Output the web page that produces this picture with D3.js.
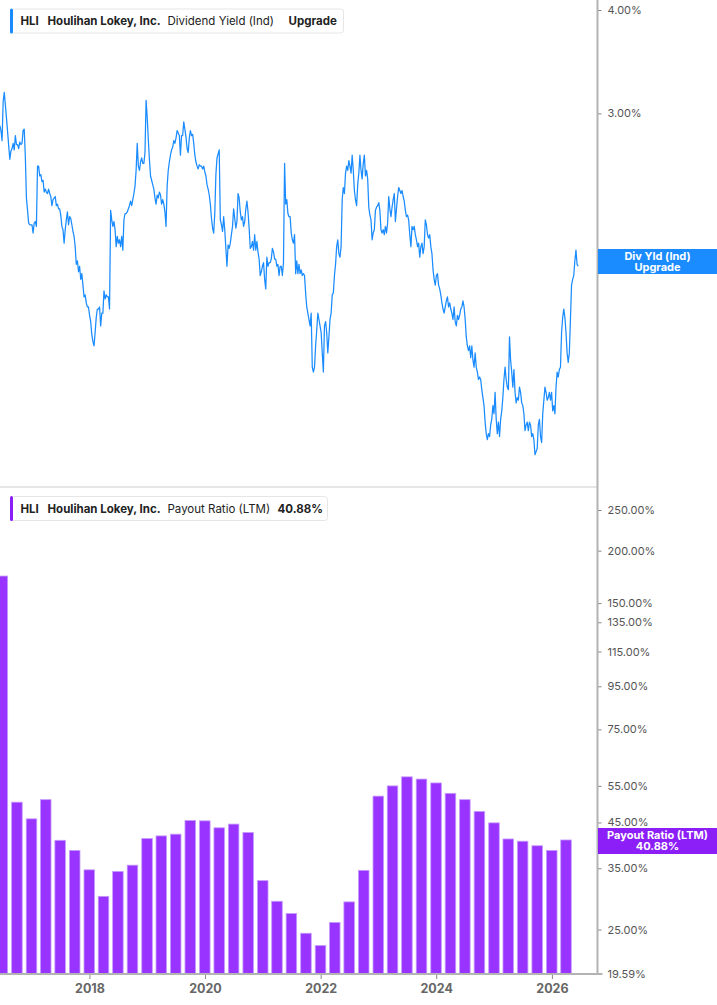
<!DOCTYPE html>
<html>
<head>
<meta charset="utf-8">
<script src="https://cdn.jsdelivr.net/npm/d3@7"></script>
<style>
  html, body { margin: 0; padding: 0; background: #fff; }
  svg { display: block; font-family: Inter, "Noto Sans", sans-serif; }
</style>
</head>
<body>
<div id="chart"></div>
<script>
"use strict";

// Dividend yield (Ind), weekly closes in %, first week starting 2016-06-14
const yieldStart = '2016-06-14';
const yieldValues = [2.90,
    2.86, 2.78, 3.10, 3.18, 3.07, 2.96, 2.85, 2.74, 2.64,
    2.70, 2.72, 2.76, 2.71, 2.82, 2.75, 2.75, 2.72, 2.77,
    2.75, 2.76, 2.86, 2.87, 2.66, 2.37, 2.29, 2.21, 2.20,
    2.20, 2.20, 2.15, 2.21, 2.22, 2.19, 2.59, 2.59, 2.52,
    2.53, 2.48, 2.49, 2.41, 2.43, 2.41, 2.40, 2.43, 2.40,
    2.38, 2.32, 2.36, 2.37, 2.38, 2.32, 2.33, 2.30, 2.30,
    2.26, 2.19, 2.17, 2.09, 2.17, 2.23, 2.28, 2.20, 2.25,
    2.24, 2.20, 2.16, 2.13, 2.07, 1.97, 1.99, 1.93, 1.96,
    1.89, 1.92, 1.86, 1.80, 1.81, 1.77, 1.75, 1.75, 1.71,
    1.68, 1.62, 1.59, 1.57, 1.63, 1.70, 1.74, 1.74, 1.75,
    1.66, 1.72, 1.72, 1.83, 1.79, 1.81, 1.80, 1.80, 1.74,
    2.29, 2.23, 2.19, 2.22, 2.17, 2.07, 2.13, 2.09, 2.11,
    2.07, 2.13, 2.05, 2.23, 2.27, 2.27, 2.28, 2.30, 2.32,
    2.35, 2.32, 2.36, 2.40, 2.45, 2.56, 2.76, 2.59, 2.56,
    2.62, 2.65, 2.61, 2.61, 2.69, 3.11, 2.97, 2.79, 2.64,
    2.52, 2.49, 2.46, 2.43, 2.37, 2.33, 2.39, 2.37, 2.41,
    2.39, 2.33, 2.36, 2.33, 2.28, 2.19, 2.45, 2.56, 2.62,
    2.67, 2.71, 2.73, 2.78, 2.76, 2.80, 2.86, 2.84, 2.82,
    2.67, 2.82, 2.82, 2.93, 2.87, 2.81, 2.72, 2.69, 2.80,
    2.86, 2.82, 2.83, 2.76, 2.67, 2.62, 2.59, 2.57, 2.60,
    2.59, 2.59, 2.57, 2.59, 2.55, 2.52, 2.46, 2.43, 2.39,
    2.33, 2.24, 2.18, 2.15, 2.27, 2.53, 2.65, 2.68, 2.71,
    2.23, 2.20, 2.16, 2.25, 2.17, 2.06, 1.96, 2.08, 2.06,
    2.09, 2.14, 2.19, 2.30, 2.24, 2.18, 2.22, 2.40, 2.37,
    2.28, 2.23, 2.25, 2.19, 2.22, 2.30, 2.35, 2.28, 2.18,
    2.06, 2.07, 2.10, 2.05, 2.14, 2.05, 2.10, 2.04, 2.00,
    1.91, 1.93, 1.96, 1.98, 1.89, 1.84, 2.01, 1.96, 1.98,
    1.98, 2.00, 2.06, 2.04, 2.00, 2.00, 1.96, 1.97, 1.91,
    1.96, 1.96, 1.91, 1.98, 2.61, 2.33, 2.36, 2.27, 2.25,
    2.25, 2.15, 2.11, 2.09, 2.14, 1.92, 1.99, 1.92, 1.97,
    1.92, 1.94, 1.91, 1.92, 1.91, 1.82, 1.75, 1.72, 1.69,
    1.66, 1.72, 1.48, 1.46, 1.48, 1.57, 1.64, 1.72, 1.69,
    1.66, 1.63, 1.54, 1.46, 1.66, 1.68, 1.63, 1.54, 1.61,
    1.69, 1.72, 1.81, 1.82, 1.91, 1.97, 2.07, 2.11, 2.03,
    2.01, 2.07, 2.36, 2.44, 2.40, 2.54, 2.59, 2.56, 2.63,
    2.59, 2.54, 2.67, 2.56, 2.42, 2.36, 2.32, 2.46, 2.54,
    2.67, 2.56, 2.50, 2.61, 2.67, 2.52, 2.56, 2.50, 2.31,
    2.26, 2.23, 2.11, 2.15, 2.17, 2.29, 2.31, 2.32, 2.34,
    2.29, 2.17, 2.15, 2.17, 2.14, 2.19, 2.15, 2.21, 2.38,
    2.30, 2.25, 2.31, 2.36, 2.40, 2.22, 2.30, 2.38, 2.44,
    2.42, 2.40, 2.42, 2.38, 2.35, 2.29, 2.25, 2.26, 2.23,
    2.14, 2.07, 2.19, 2.17, 2.19, 2.14, 2.11, 2.07, 2.09,
    2.01, 2.07, 2.09, 2.03, 2.07, 2.23, 2.20, 2.14, 2.12,
    2.14, 2.07, 2.03, 1.94, 1.89, 1.86, 1.91, 1.92, 1.86,
    1.84, 1.81, 1.77, 1.74, 1.72, 1.75, 1.78, 1.80, 1.75,
    1.77, 1.74, 1.72, 1.69, 1.75, 1.68, 1.66, 1.71, 1.69,
    1.71, 1.74, 1.75, 1.78, 1.75, 1.69, 1.61, 1.57, 1.55,
    1.57, 1.52, 1.57, 1.51, 1.48, 1.54, 1.48, 1.46, 1.43,
    1.44, 1.43, 1.39, 1.36, 1.33, 1.27, 1.23, 1.21, 1.23,
    1.22, 1.26, 1.28, 1.33, 1.30, 1.38, 1.28, 1.23, 1.27,
    1.22, 1.28, 1.31, 1.36, 1.43, 1.48, 1.43, 1.40, 1.39,
    1.61, 1.51, 1.46, 1.40, 1.47, 1.38, 1.34, 1.36, 1.35,
    1.40, 1.38, 1.34, 1.33, 1.30, 1.24, 1.26, 1.27, 1.24,
    1.27, 1.26, 1.22, 1.23, 1.21, 1.16, 1.17, 1.18, 1.26,
    1.28, 1.22, 1.20, 1.30, 1.35, 1.40, 1.38, 1.35, 1.36,
    1.38, 1.35, 1.38, 1.31, 1.33, 1.30, 1.40, 1.46, 1.44,
    1.47, 1.48, 1.63, 1.70, 1.74, 1.70, 1.63, 1.54, 1.50,
    1.54, 1.69, 1.86, 1.89, 1.91, 1.99, 2.05, 1.97, 1.96];

// Payout ratio (LTM), one bar per fiscal quarter end
const payoutDates = [
    '2016-06-30', '2016-09-30', '2016-12-31', '2017-03-31',
    '2017-06-30', '2017-09-30', '2017-12-31', '2018-03-31',
    '2018-06-30', '2018-09-30', '2018-12-31', '2019-03-31',
    '2019-06-30', '2019-09-30', '2019-12-31', '2020-03-31',
    '2020-06-30', '2020-09-30', '2020-12-31', '2021-03-31',
    '2021-06-30', '2021-09-30', '2021-12-31', '2022-03-31',
    '2022-06-30', '2022-09-30', '2022-12-31', '2023-03-31',
    '2023-06-30', '2023-09-30', '2023-12-31', '2024-03-31',
    '2024-06-30', '2024-09-30', '2024-12-31', '2025-03-31',
    '2025-06-30', '2025-09-30', '2025-12-31', '2026-03-31'];
const payoutValues = [
    174.0, 50.3, 45.9, 51.0, 40.8, 38.6, 34.7, 30.0,
    34.4, 35.6, 41.2, 41.8, 42.2, 45.5, 45.4, 43.7,
    44.6, 42.6, 32.7, 29.2, 27.3, 24.5, 22.9, 26.0,
    29.1, 34.6, 52.0, 55.0, 57.8, 57.1, 55.9, 52.8,
    51.0, 47.8, 44.9, 41.1, 40.6, 39.6, 38.6, 40.88];

// Axis ticks
const yearTicks = ['2018-01-01', '2020-01-01', '2022-01-01', '2024-01-01', '2026-01-01'];
const yieldTicks = [4, 3, 2];
const payoutTicks = [250, 200, 150, 135, 115, 95, 75, 55, 45, 35, 25, 19.59];

const W = 717, H = 1005;
const plotRight = 597.5;   // right price axis sits here
const sepY = 487;          // divider between the two panes
const baseY = 974;         // bottom time axis

const BLUE = '#1a8cff', PURPLE = '#9933ff', AXIS = '#b3b3b3', TXT = '#555';

const parse = d3.timeParse('%Y-%m-%d');

let svg = d3.select('#chart').append('svg')
    .attr('width', W)
    .attr('height', H);

// Shared time scale, both panes use the same x
let x = d3.scaleTime()
    .domain([parse('2016-06-15'), parse('2026-10-16')])
    .range([0, plotRight]);

let yTop = d3.scaleLog().domain([2, 4]).range([259, 10]);
let yBot = d3.scaleLog().domain([19.59, 250]).range([baseY, 510]);

let defs = svg.append('defs');
defs.append('clipPath').attr('id', 'clip-top')
  .append('rect').attr('x', 0).attr('y', 0).attr('width', plotRight).attr('height', sepY);
defs.append('clipPath').attr('id', 'clip-bot')
  .append('rect').attr('x', 0).attr('y', sepY).attr('width', plotRight).attr('height', baseY - sepY);

// ---- top pane: dividend yield line
let start = parse(yieldStart);
let yieldData = yieldValues.map(function (v, i) {
    return {date: d3.timeDay.offset(start, 7 * i), value: v};
});
let line = d3.line()
    .x(function (d) { return x(d.date); })
    .y(function (d) { return yTop(d.value); });
svg.append('path')
    .datum(yieldData)
    .attr('clip-path', 'url(#clip-top)')
    .attr('fill', 'none')
    .attr('stroke', BLUE)
    .attr('stroke-width', 1.25)
    .attr('stroke-linejoin', 'round')
    .attr('d', line);

// ---- bottom pane: payout ratio bars
let bars = payoutDates.map(function (d, i) {
    return {date: parse(d), value: payoutValues[i]};
});
let barW = 0.74 * (x(parse('2026-03-31')) - x(parse('2025-12-31')));
svg.append('g')
    .attr('clip-path', 'url(#clip-bot)')
  .selectAll('rect')
  .data(bars)
  .enter().append('rect')
    .attr('x', function (d) { return x(d.date) - barW / 2; })
    .attr('y', function (d) { return yBot(d.value); })
    .attr('width', barW)
    .attr('height', function (d) { return baseY - yBot(d.value); })
    .attr('fill', PURPLE)
    .attr('stroke', '#c59bff')
    .attr('stroke-width', 0.8);

// Divider between panes
svg.append('line')
    .attr('x1', 0).attr('x2', plotRight)
    .attr('y1', sepY).attr('y2', sepY)
    .attr('stroke', '#dedede').attr('stroke-width', 1.5);

// Right price axes, same look for both panes
function rightAxis(scale, ticks, fmt) {
    let g = svg.append('g')
        .attr('transform', 'translate(' + plotRight + ',0)')
        .call(d3.axisRight(scale).tickValues(ticks).tickFormat(fmt)
            .tickSize(4).tickPadding(6));
    g.select('.domain').remove();
    g.selectAll('.tick line').attr('stroke', '#888');
    g.selectAll('.tick text')
        .attr('fill', TXT)
        .style('font-family', 'Inter, sans-serif')
        .style('font-size', '11px');
    return g;
}
rightAxis(yTop, yieldTicks, function (d) { return d3.format('.2f')(d) + '%'; });
rightAxis(yBot, payoutTicks, function (d) { return d3.format('.2f')(d) + '%'; });

// Vertical axis rule running through both panes
svg.append('line')
    .attr('x1', plotRight).attr('x2', plotRight)
    .attr('y1', 0).attr('y2', baseY + 1)
    .attr('stroke', AXIS).attr('stroke-width', 2);

// Bottom time axis
let xAxis = svg.append('g')
    .attr('transform', 'translate(0,' + baseY + ')')
    .call(d3.axisBottom(x).tickValues(yearTicks.map(parse))
        .tickFormat(d3.timeFormat('%Y')).tickSize(5).tickPadding(5));
xAxis.select('.domain').remove();
xAxis.selectAll('.tick line').attr('stroke', '#888');
xAxis.selectAll('.tick text')
    .attr('fill', '#666')
    .style('font-family', 'Inter, sans-serif')
    .style('font-size', '12.5px')
    .style('font-weight', 700);
svg.append('line')
    .attr('x1', 0).attr('x2', plotRight + 5)
    .attr('y1', baseY).attr('y2', baseY)
    .attr('stroke', AXIS).attr('stroke-width', 2);

// Last-value tags on the price axis (two lines in one text element)
function valueTag(y0, h, fill, lines) {
    svg.append('rect')
        .attr('x', plotRight + 0.5).attr('y', y0)
        .attr('width', W - plotRight).attr('height', h)
        .attr('fill', fill);
    let txt = svg.append('text')
        .attr('text-anchor', 'middle')
        .attr('fill', '#fff')
        .style('font-size', '11px')
        .style('font-weight', 700);
    lines.forEach(function (t, i) {
        txt.append('tspan')
            .attr('x', 657.5)
            .attr('y', y0 + 10.5 + i * 11)
            .text(t);
    });
}
valueTag(249, 25, BLUE, ['Div Yld (Ind)', 'Upgrade']);
valueTag(828, 26, '#8c1ef7', ['Payout Ratio (LTM)', payoutValues[payoutValues.length - 1].toFixed(2) + '%']);

// Legends in the top-left corner of each pane
function legend(y0, w, color, parts) {
    let g = svg.append('g');
    g.append('rect')
        .attr('x', 10.5).attr('y', y0 + 0.5)
        .attr('width', w).attr('height', 24)
        .attr('rx', 3)
        .attr('fill', '#fff')
        .attr('stroke', '#e6e6e6');
    g.append('rect')
        .attr('x', 10).attr('y', y0).attr('width', 3).attr('height', 25)
        .attr('rx', 1.5)
        .attr('fill', color);
    parts.forEach(function (p) {
        g.append('text')
            .attr('x', p.x)
            .attr('y', y0 + 16.5)
            .attr('fill', '#222')
            .style('font-size', '11.5px')
            .style('font-weight', p.bold ? 700 : 400)
            .text(p.t);
    });
}
legend(8.5, 333, BLUE, [
    {t: 'HLI', x: 20.5, bold: true},
    {t: 'Houlihan Lokey, Inc.', x: 47.5, bold: true},
    {t: 'Dividend Yield (Ind)', x: 167.5, bold: false},
    {t: 'Upgrade', x: 288.5, bold: true}]);
legend(496, 317, '#8c1ef7', [
    {t: 'HLI', x: 20.5, bold: true},
    {t: 'Houlihan Lokey, Inc.', x: 47.5, bold: true},
    {t: 'Payout Ratio (LTM)', x: 167.5, bold: false},
    {t: payoutValues[payoutValues.length - 1].toFixed(2) + '%', x: 277.5, bold: true}]);
</script>
</body>
</html>
